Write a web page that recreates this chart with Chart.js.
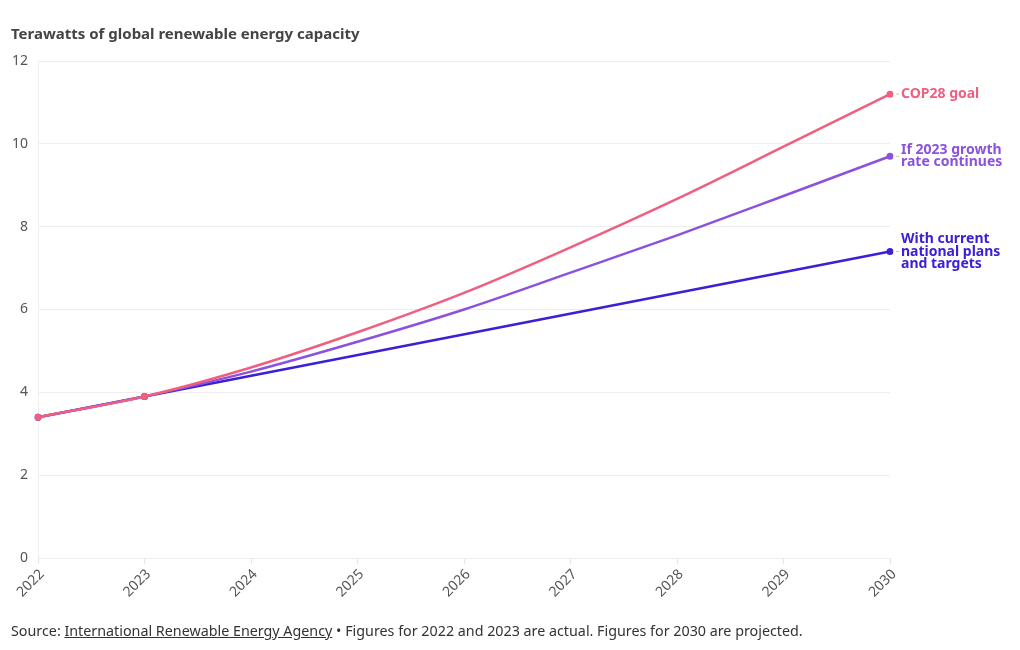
<!DOCTYPE html>
<html>
<head>
<meta charset="utf-8">
<script src="https://cdn.jsdelivr.net/npm/chart.js@4"></script>
<style>
  body { margin: 0; background: #fff; font-family: "Noto Sans", sans-serif; }
  #wrap { position: relative; width: 1020px; height: 650px; }
  #title { position: absolute; left: 11px; top: 23px; font-size: 15px; font-weight: 700; color: #444; }
  #source { position: absolute; left: 11px; top: 621px; font-size: 14.3px; color: #333; }
  #source span { text-decoration: underline; }
  canvas { position: absolute; left: 0; top: 0; }
</style>
</head>
<body>
<div id="wrap">
  <canvas id="myChart" width="1020" height="650"></canvas>
  <div id="title">Terawatts of global renewable energy capacity</div>
  <div id="source">Source: <span>International Renewable Energy Agency</span> • Figures for 2022 and 2023 are actual. Figures for 2030 are projected.</div>
</div>
<script>
const years = ["2022", "2023", "2024", "2025", "2026", "2027", "2028", "2029", "2030"];
const cop28Goal = [3.4, 3.9, 4.6, 5.45, 6.4, 7.5, 8.67, 9.93, 11.2];
const growthContinues = [3.4, 3.9, 4.5, 5.22, 6.0, 6.89, 7.79, 8.74, 9.7];
const currentPlans = [3.4, 3.9, null, null, null, null, null, null, 7.4];
const yTicks = [0, 2, 4, 6, 8, 10, 12];

const seriesNames = ["COP28 goal", "If 2023 growth rate continues", "With current national plans and targets"];
const labelLines = [["COP28 goal"], ["If 2023 growth", "rate continues"], ["With current", "national plans", "and targets"]];
const colors = ["#ef5f80", "#8b52dd", "#3b20d6"];

// points only on the actual years and 2030
function dotRadius(ctx) {
  const i = ctx.dataIndex;
  return (i === 0 || i === 1 || i === years.length - 1) ? 3.5 : 0;
}

// labels to the right of the last points
const endLabels = {
  id: "endLabels",
  afterDatasetsDraw(chart) {
    const ctx = chart.ctx;
    ctx.save();
    chart.data.datasets.forEach((ds, k) => {
      const meta = chart.getDatasetMeta(k);
      const pt = meta.data[meta.data.length - 1];
      const lines = labelLines[k];
      const lh = 12.5;
      ctx.strokeStyle = "#c8c8a0";
      ctx.lineWidth = 1;
      ctx.beginPath();
      ctx.moveTo(pt.x + 6, pt.y);
      ctx.lineTo(pt.x + 9, pt.y);
      ctx.stroke();
      ctx.fillStyle = colors[k];
      ctx.font = "bold 14px 'Noto Sans', sans-serif";
      ctx.textBaseline = "middle";
      ctx.textAlign = "left";
      const y0 = pt.y - (lines.length - 1) * lh / 2;
      lines.forEach((t, j) => ctx.fillText(t, pt.x + 11, y0 + j * lh));
    });
    ctx.restore();
  }
};

const myChart = new Chart(document.getElementById("myChart"), {
  type: "line",
  data: {
    labels: years,
    datasets: [cop28Goal, growthContinues, currentPlans].map((d, k) => ({
      label: seriesNames[k],
      data: d,
      borderColor: colors[k],
      backgroundColor: colors[k],
      borderWidth: 2.5,
      pointRadius: dotRadius,
      pointHoverRadius: dotRadius,
      pointBorderWidth: 0,
      cubicInterpolationMode: "monotone",
      spanGaps: true,
      fill: false
    }))
  },
  options: {
    responsive: false,
    animation: false,
    layout: { padding: { top: 61, right: 130, bottom: 42, left: 0 } },
    scales: {
      x: {
        grid: { drawOnChartArea: false, drawTicks: true, tickLength: 6, color: "#e6e6e6" },
        border: { color: "#eeeeee" },
        ticks: { minRotation: 45, maxRotation: 45, color: "#555", padding: 2, labelOffset: 4, font: { size: 14, family: "'Noto Sans', sans-serif" } },
        afterFit(scale) { scale.height = 50; }
      },
      y: {
        min: 0,
        max: 12,
        afterBuildTicks(scale) { scale.ticks = yTicks.map(v => ({ value: v })); },
        grid: { color: "#eeeeee", drawTicks: false },
        border: { color: "#eeeeee" },
        ticks: { color: "#555", padding: 10, font: { size: 14, family: "'Noto Sans', sans-serif" } },
        afterFit(scale) { scale.width = 38; }
      }
    },
    plugins: {
      legend: { display: false },
      title: { display: false },
      tooltip: { enabled: false }
    }
  },
  plugins: [endLabels]
});
</script>
</body>
</html>
